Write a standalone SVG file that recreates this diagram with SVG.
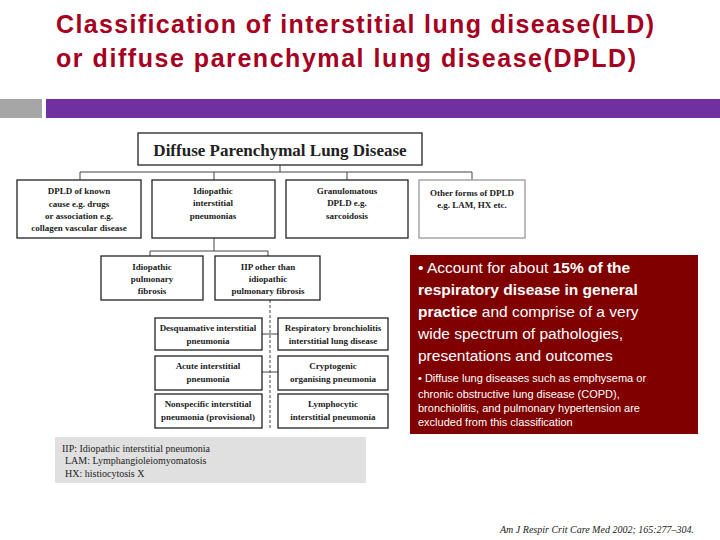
<svg xmlns="http://www.w3.org/2000/svg" width="720" height="540" viewBox="0 0 720 540">
<style>
.t{font-family:"Liberation Sans",Arial,sans-serif;font-weight:bold;font-size:25px;fill:#a50021}
.b rect{fill:#fff;stroke:#222;stroke-width:1.3}
.n{font-family:"Liberation Serif","Times New Roman",serif;font-weight:bold;font-size:9px;fill:#222;text-anchor:middle}
.c{stroke:#444;stroke-width:1;fill:none}
.w{font-family:"Liberation Sans",Arial,sans-serif;fill:#fff}
.l{font-family:"Liberation Serif","Times New Roman",serif;font-size:10px;fill:#222}
</style>
<rect width="720" height="540" fill="#fff"/>
<text class="t" x="56" y="33" textLength="598" lengthAdjust="spacing">Classification of interstitial lung disease(ILD)</text>
<text class="t" x="56" y="67" textLength="580" lengthAdjust="spacing">or diffuse parenchymal lung disease(DPLD)</text>
<rect x="0" y="99" width="42" height="19" fill="#a6a6a6"/>
<rect x="46" y="99" width="674" height="19" fill="#7030a0"/>
<g id="connectors" class="c">
<path d="M280 165V172M80 172H472M80 172V180M214 172V180M347 172V180M472 172V180"/>
<path d="M214 238V251M150 251H268M150 251V256M268 251V256"/>
<path d="M270 300V428" stroke-dasharray="3 2"/>
<path d="M262 334H278M262 372H278"/>
</g>
<g class="b">
<g id="dpld"><rect x="138" y="133" width="284" height="32"/><text x="280" y="156" text-anchor="middle" style="font-family:'Liberation Serif',serif;font-weight:bold;font-size:17px;fill:#222">Diffuse Parenchymal Lung Disease</text></g>
<g id="known"><rect x="17" y="180" width="124" height="58"/><text class="n"><tspan x="79" y="194">DPLD of known</tspan><tspan x="79" y="207">cause e.g. drugs</tspan><tspan x="79" y="219">or association e.g.</tspan><tspan x="79" y="231">collagen vascular disease</tspan></text></g>
<g id="iip"><rect x="152" y="180" width="123" height="58"/><text class="n"><tspan x="213" y="194">Idiopathic</tspan><tspan x="213" y="206">interstitial</tspan><tspan x="213" y="219">pneumonias</tspan></text></g>
<g id="gran"><rect x="286" y="180" width="122" height="58"/><text class="n"><tspan x="347" y="194">Granulomatous</tspan><tspan x="347" y="206">DPLD e.g.</tspan><tspan x="347" y="219">sarcoidosis</tspan></text></g>
<g id="other"><rect x="419" y="180" width="106" height="58" style="stroke:#999"/><text class="n"><tspan x="472" y="196">Other forms of DPLD</tspan><tspan x="472" y="208">e.g. LAM, HX etc.</tspan></text></g>
<g id="ipf"><rect x="101" y="256" width="102" height="44"/><text class="n"><tspan x="152" y="270">Idiopathic</tspan><tspan x="152" y="282">pulmonary</tspan><tspan x="152" y="294">fibrosis</tspan></text></g>
<g id="iipother"><rect x="215" y="256" width="105" height="44"/><text class="n"><tspan x="268" y="270">IIP other than</tspan><tspan x="268" y="282">idiopathic</tspan><tspan x="268" y="294">pulmonary fibrosis</tspan></text></g>
<g id="dip"><rect x="155" y="318" width="107" height="32"/><text class="n"><tspan x="208" y="331">Desquamative interstitial</tspan><tspan x="208" y="344">pneumonia</tspan></text></g>
<g id="rb"><rect x="278" y="318" width="110" height="32"/><text class="n"><tspan x="333" y="331">Respiratory bronchiolitis</tspan><tspan x="333" y="344">interstitial lung disease</tspan></text></g>
<g id="aip"><rect x="155" y="356" width="107" height="34"/><text class="n"><tspan x="208" y="369">Acute interstitial</tspan><tspan x="208" y="382">pneumonia</tspan></text></g>
<g id="cop"><rect x="278" y="356" width="110" height="34"/><text class="n"><tspan x="333" y="369">Cryptogenic</tspan><tspan x="333" y="382">organising pneumonia</tspan></text></g>
<g id="nsip"><rect x="155" y="394" width="107" height="34"/><text class="n"><tspan x="208" y="407">Nonspecific interstitial</tspan><tspan x="208" y="420">pneumonia (provisional)</tspan></text></g>
<g id="lip"><rect x="278" y="394" width="110" height="34"/><text class="n"><tspan x="333" y="407">Lymphocytic</tspan><tspan x="333" y="420">interstitial pneumonia</tspan></text></g>
</g>
<g id="note">
<rect x="410" y="255" width="288" height="179" fill="#800000"/>
<text class="w" font-size="15.5"><tspan x="418" y="273">• Account for about <tspan font-weight="bold">15% of the</tspan></tspan><tspan x="418" y="295" font-weight="bold">respiratory disease in general</tspan><tspan x="418" y="317"><tspan font-weight="bold">practice</tspan> and comprise of a very</tspan><tspan x="418" y="339">wide spectrum of pathologies,</tspan><tspan x="418" y="361">presentations and outcomes</tspan></text>
<text class="w" font-size="11"><tspan x="418" y="382">• Diffuse lung diseases such as emphysema or</tspan><tspan x="418" y="398">chronic obstructive lung disease (COPD),</tspan><tspan x="418" y="412">bronchiolitis, and pulmonary hypertension are</tspan><tspan x="418" y="426">excluded from this classification</tspan></text>
</g>
<g id="legend">
<rect x="55" y="437" width="311" height="46" fill="#e0e0e0"/>
<text class="l"><tspan x="62" y="452">IIP: Idiopathic interstitial pneumonia</tspan><tspan x="65" y="464">LAM: Lymphangioleiomyomatosis</tspan><tspan x="65" y="477">HX: histiocytosis X</tspan></text>
</g>
<text x="500" y="533" style="font-family:'Liberation Serif',serif;font-style:italic;font-size:10px;fill:#222">Am J Respir Crit Care Med 2002; 165:277–304.</text>
</svg>
